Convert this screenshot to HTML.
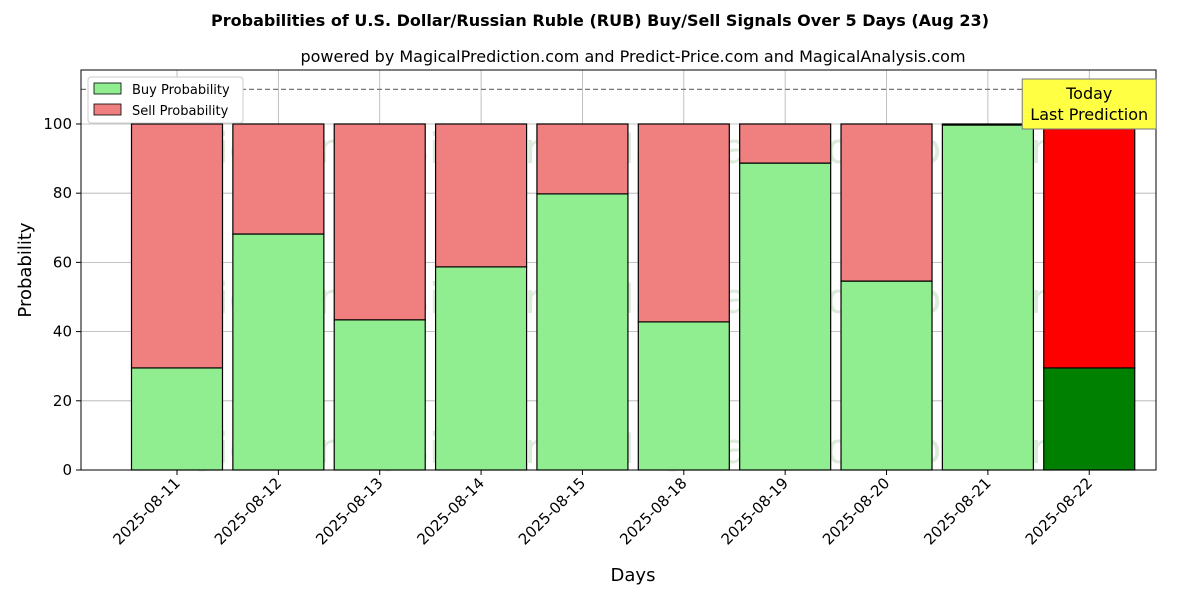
<!DOCTYPE html>
<html><head><meta charset="utf-8"><style>
body{margin:0;background:#fff;font-family:"Liberation Sans","DejaVu Sans",sans-serif;}
svg text{font-family:"DejaVu Sans","Liberation Sans",sans-serif;}
</style></head><body>
<svg id="chart" width="1200" height="600" xmlns="http://www.w3.org/2000/svg">
<text x="600" y="26" text-anchor="middle" font-size="16" font-weight="bold">Probabilities of U.S. Dollar/Russian Ruble (RUB) Buy/Sell Signals Over 5 Days (Aug 23)</text>
<text x="633" y="62" text-anchor="middle" font-size="16">powered by MagicalPrediction.com and Predict-Price.com and MagicalAnalysis.com</text>
<g id="grid"></g>
<g id="wm" fill="#8fbf8f" opacity="0.3" font-size="42">
<text x="347" y="163" text-anchor="middle">MagicalAnalysis.com</text>
<text x="835" y="163" text-anchor="middle">MagicalPrediction.com</text>
<text x="347" y="313" text-anchor="middle">MagicalAnalysis.com</text>
<text x="835" y="313" text-anchor="middle">MagicalPrediction.com</text>
<text x="347" y="463" text-anchor="middle">MagicalAnalysis.com</text>
<text x="835" y="463" text-anchor="middle">MagicalPrediction.com</text>
</g>
<g id="bars"></g>
<g id="axes"></g>
<text x="633" y="581" text-anchor="middle" font-size="18">Days</text>
<text transform="translate(31,270) rotate(-90)" text-anchor="middle" font-size="18">Probability</text>
<g>
<rect x="88" y="77" width="155" height="46" fill="#fff" stroke="#ccc" rx="3"/>
<rect x="94" y="83" width="27" height="11" fill="#90ee90" stroke="#000" stroke-width="0.8"/>
<text x="132" y="94" font-size="13">Buy Probability</text>
<rect x="94" y="104" width="27" height="11" fill="#f08080" stroke="#000" stroke-width="0.8"/>
<text x="132" y="115" font-size="13">Sell Probability</text>
</g>
</svg>
<script>
const categories=["2025-08-11","2025-08-12","2025-08-13","2025-08-14","2025-08-15","2025-08-18","2025-08-19","2025-08-20","2025-08-21","2025-08-22"];
const buyValues=[29.5,68.2,43.4,58.7,79.8,42.8,88.7,54.6,99.7,29.5];
const sellValues=[70.5,31.8,56.6,41.3,20.2,57.2,11.3,45.4,0.3,70.5];
const yTicks=[0,20,40,60,80,100];
const refLine=110;
const NS="http://www.w3.org/2000/svg";
const L=81,R=1156,T=70,B=470;
const y=v=>B-(v/115.6)*(B-T);
const step=101.36, x0=177;
const x=i=>x0+i*step;
const bw=91;
function mk(tag,attrs,parent){const e=document.createElementNS(NS,tag);for(const k in attrs)e.setAttribute(k,attrs[k]);parent.appendChild(e);return e;}
const grid=document.getElementById('grid'),bars=document.getElementById('bars'),axes=document.getElementById('axes');
yTicks.forEach(t=>{
 const g=mk('line',{x1:L,x2:R,y1:y(t),y2:y(t),stroke:'#b0b0b0','stroke-width':0.8},grid);
 
 
 const tk=mk('line',{x1:L-5,x2:L,y1:y(t),y2:y(t),stroke:'#000'},axes);
 
 
 const tx=mk('text',{x:L-9,y:y(t)+5,'text-anchor':'end','font-size':15},axes);
 tx.textContent=t;
 
 
});
categories.forEach((c,i)=>{
 const g=mk('line',{x1:x(i),x2:x(i),y1:T,y2:B,stroke:'#b0b0b0','stroke-width':0.8},grid);
 
 
 const last=i===categories.length-1;
 const b=mk('rect',{x:x(i)-bw/2,y:y(buyValues[i]),width:bw,height:y(0)-y(buyValues[i]),fill:last?'#008000':'#90ee90',stroke:'#000','stroke-width':1.2},bars);
 
 
 const s=mk('rect',{x:x(i)-bw/2,y:y(buyValues[i]+sellValues[i]),width:bw,height:y(buyValues[i])-y(buyValues[i]+sellValues[i]),fill:last?'#ff0000':'#f08080',stroke:'#000','stroke-width':1.2},bars);
 
 
 const tk=mk('line',{x1:x(i),x2:x(i),y1:B,y2:B+5,stroke:'#000'},axes);
 
 
 const tx=mk('text',{x:x(i)+4,y:B+14,'text-anchor':'end','font-size':15,transform:`rotate(-45 ${x(i)+4} ${B+14})`},axes);
 tx.textContent=c;
 
 
});
const rl=mk('line',{x1:L,x2:R,y1:y(refLine),y2:y(refLine),stroke:'#777','stroke-dasharray':'5,3','stroke-width':1.2},axes);


const fr=mk('rect',{x:L,y:T,width:R-L,height:B-T,fill:'none',stroke:'#000','stroke-width':1},axes);


const li=categories.length-1;
const box=mk('rect',{x:x(li)-67,y:79,width:134,height:50,fill:'#ffff44',stroke:'#777'},axes);


const t1=mk('text',{x:x(li),y:99,'text-anchor':'middle','font-size':16},axes);
t1.textContent='Today';


const t2=mk('text',{x:x(li),y:120,'text-anchor':'middle','font-size':16},axes);
t2.textContent='Last Prediction';


</script>
</body></html>
